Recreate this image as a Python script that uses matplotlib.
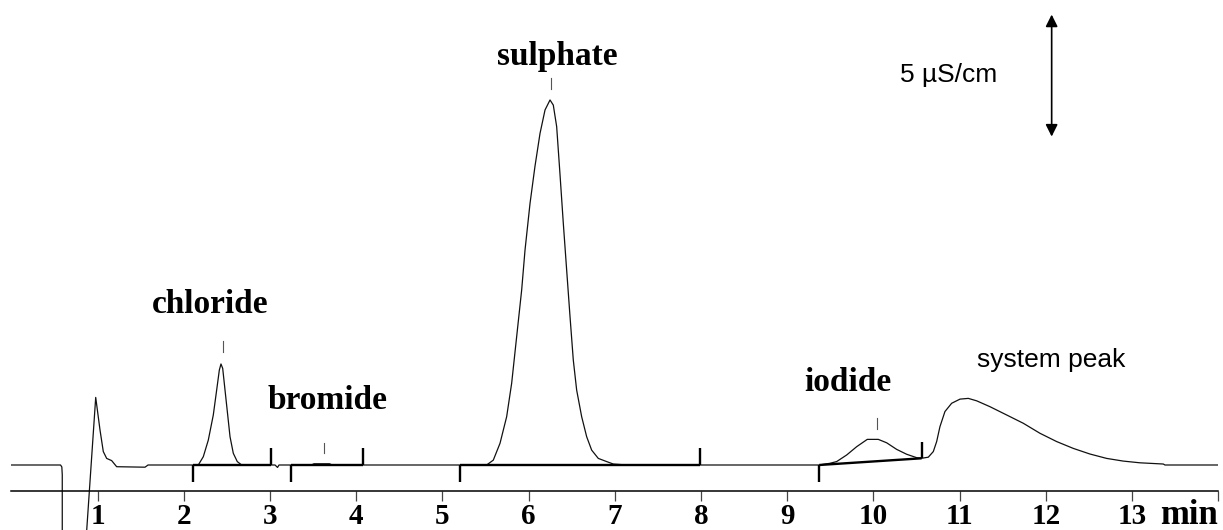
import matplotlib
matplotlib.use("Agg")
import matplotlib.pyplot as plt

# ---------------- data (time in min, signal in uS/cm) ----------------
trace_time = [
    0.00, 0.57, 0.585, 0.59, 0.59, 0.85,
    0.978, 1.028, 1.066, 1.105, 1.163, 1.221, 1.55, 1.585,
    2.168, 2.226, 2.284, 2.342, 2.381, 2.412, 2.431, 2.451, 2.478, 2.509,
    2.536, 2.574, 2.620, 2.671,
    3.058, 3.087, 3.104, 3.48, 3.51, 3.69, 3.72,
    5.513, 5.590, 5.668, 5.745, 5.803, 5.861, 5.919, 5.958, 6.016, 6.073,
    6.132, 6.190, 6.248, 6.286, 6.325, 6.363, 6.402, 6.441, 6.480, 6.518,
    6.557, 6.615, 6.673, 6.731, 6.808, 6.905, 6.982, 7.137,
    9.371, 9.495, 9.573, 9.689, 9.805, 9.928, 10.056, 10.153, 10.269,
    10.385, 10.501, 10.559,
    10.636, 10.694, 10.733, 10.771, 10.829, 10.907, 11.004, 11.100, 11.197,
    11.351, 11.545, 11.738, 11.931, 12.125, 12.318, 12.511, 12.705, 12.898,
    13.091, 13.362, 13.381, 14.00,
]
trace_signal = [
    0.00, 0.00, -0.08, -0.40, -3.90, -3.90,
    2.77, 1.43, 0.55, 0.27, 0.18, -0.07, -0.09, 0.00,
    0.00, 0.34, 1.02, 2.05, 3.07, 3.89, 4.14, 3.96, 3.07, 2.05,
    1.16, 0.48, 0.14, 0.00,
    0.00, -0.10, 0.00, 0.00, 0.05, 0.05, 0.00,
    0.00, 0.20, 0.89, 1.98, 3.35, 5.26, 7.17, 8.81, 10.72, 12.23,
    13.59, 14.55, 14.96, 14.75, 13.87, 11.95, 9.91, 7.99, 6.08, 4.30,
    3.07, 1.98, 1.16, 0.61, 0.27, 0.14, 0.04, 0.00,
    0.00, 0.07, 0.14, 0.41, 0.75, 1.05, 1.05, 0.91, 0.64,
    0.44, 0.30, 0.275,
    0.32, 0.55, 0.96, 1.57, 2.19, 2.53, 2.70, 2.73, 2.63,
    2.39, 2.05, 1.71, 1.30, 0.96, 0.68, 0.45, 0.27, 0.16,
    0.09, 0.04, 0.00, 0.00,
]

peak_names = ["chloride", "bromide", "sulphate", "iodide"]
peak_times = [2.458, 3.626, 6.256, 10.037]
peak_mark_low = [4.63, 0.48, 15.41, 1.46]
peak_mark_high = [5.08, 0.91, 15.86, 1.91]

integ_start_t = [2.108, 3.243, 5.204, 9.371]
integ_end_t = [3.017, 4.078, 7.988, 10.559]
integ_start_s = [0.0, 0.0, 0.0, 0.0]
integ_end_s = [0.0, 0.0, 0.0, 0.275]

tick_values = list(range(1, 15))
tick_labels = [str(v) for v in range(1, 14)] + [""]
axis_unit = "min"
scale_label = "5 \u00b5S/cm"
scale_span = 5.0
system_peak_label = "system peak"

# ---------------- figure ----------------
W, H, DPI = 1223, 530, 100
fig = plt.figure(figsize=(W / DPI, H / DPI), dpi=DPI)
ax = fig.add_axes([11.4 / W, 0.0, (1218.3 - 11.4) / W, 1.0])
ax.set_xlim(0, 14)
ax.set_ylim(-2.664, 19.057)

serif_bold = dict(family=["Liberation Serif", "DejaVu Serif"], weight="bold")
sans = dict(family=["Liberation Sans", "DejaVu Sans"])

# trace
ax.plot(trace_time, trace_signal, color="#111111", lw=0.9, solid_joinstyle="round")

# integration baselines with start/end ticks
for t0, t1, s0, s1 in zip(integ_start_t, integ_end_t, integ_start_s, integ_end_s):
    ax.plot([t0, t1], [s0, s1], color="black", lw=1.7, solid_capstyle="butt")
    ax.plot([t0, t0], [s0, s0 - 0.68], color="black", lw=1.7, solid_capstyle="butt")
    ax.plot([t1, t1], [s1, s1 + 0.68], color="black", lw=1.7, solid_capstyle="butt")

# peak marks
for t, lo, hi in zip(peak_times, peak_mark_low, peak_mark_high):
    ax.plot([t, t], [lo, hi], color="#555555", lw=0.8)

# peak labels
label_pos = {
    "chloride": (2.304, 6.23),
    "bromide": (3.667, 2.28),
    "sulphate": (6.329, 16.39),
    "iodide": (9.704, 3.03),
}
for name in peak_names:
    x, y = label_pos[name]
    ax.text(x, y, name, ha="center", va="baseline", fontsize=24, **serif_bold)

ax.text(12.067, 4.0, system_peak_label, ha="center", va="baseline", fontsize=19, **sans)

# scale bar
ax.annotate("", xy=(12.067, 13.46 + scale_span), xytext=(12.067, 13.46),
            arrowprops=dict(arrowstyle="<|-|>", color="black", lw=1.2,
                            mutation_scale=18, shrinkA=0, shrinkB=0))
ax.text(10.876, 15.71, scale_label, ha="center", va="baseline", fontsize=19, **sans)

# axis
for side in ["left", "right", "top"]:
    ax.spines[side].set_visible(False)
ax.spines["bottom"].set_position(("data", -1.066))
ax.spines["bottom"].set_linewidth(1.1)
ax.set_yticks([])
ax.set_xticks(tick_values)
ax.set_xticklabels(tick_labels, fontsize=21, **serif_bold)
ax.tick_params(axis="x", direction="out", length=7.5, width=0.9, color="#444444", pad=1)
ax.text(14, -2.42, axis_unit, ha="right", va="baseline", fontsize=25,
        transform=ax.transData, clip_on=False, **serif_bold)

fig.savefig("out.png", dpi=DPI)
